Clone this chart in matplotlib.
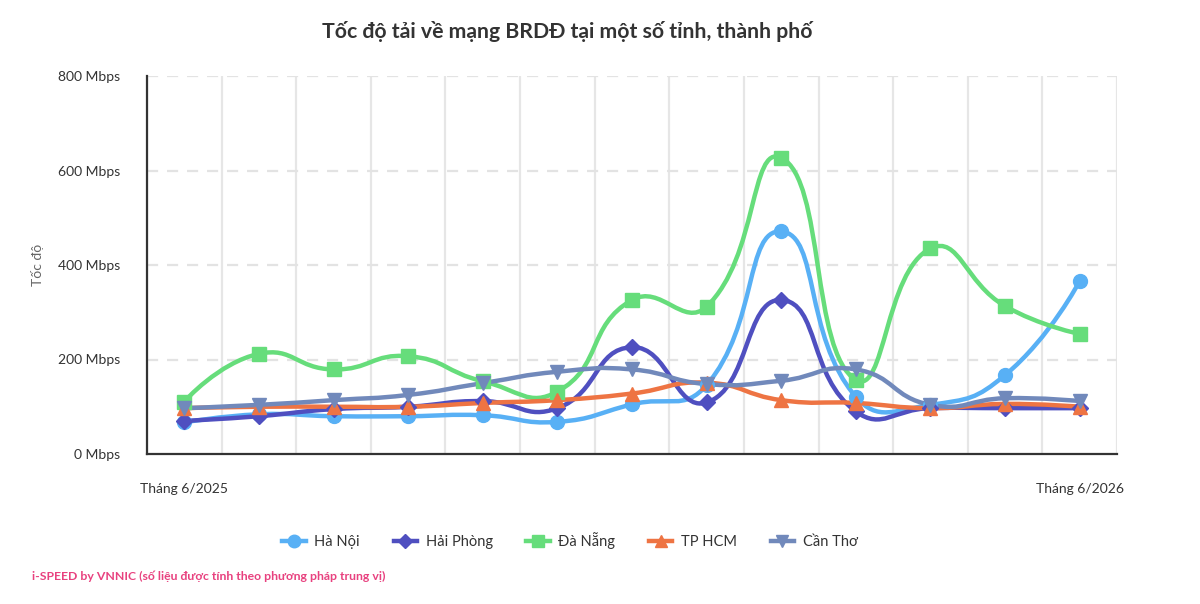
"""Tốc độ tải về mạng BRDĐ tại một số tỉnh, thành phố — smoothed line chart."""
import numpy as np
import matplotlib
matplotlib.use("Agg")
import matplotlib.pyplot as plt
from matplotlib.path import Path
from matplotlib.patches import PathPatch
from matplotlib.lines import Line2D

plt.rcParams["font.family"] = ["Lato", "DejaVu Sans"]

MONTHS = ["Tháng 6/2025", "Tháng 7/2025", "Tháng 8/2025", "Tháng 9/2025",
          "Tháng 10/2025", "Tháng 11/2025", "Tháng 12/2025", "Tháng 1/2026",
          "Tháng 2/2026", "Tháng 3/2026", "Tháng 4/2026", "Tháng 5/2026",
          "Tháng 6/2026"]

HA_NOI = [67, 84, 80, 80, 82, 68, 105, 146, 471, 121, 104, 167, 366]
HAI_PHONG = [70, 80, 95, 100, 112, 97, 226, 109, 326, 90, 97, 97, 97]
DA_NANG = [111, 212, 179, 207, 154, 132, 326, 312, 627, 157, 435, 313, 254]
TP_HCM = [97, 100, 100, 100, 108, 114, 128, 151, 114, 108, 97, 106, 100]
CAN_THO = [97, 104, 114, 125, 150, 174, 179, 148, 155, 179, 104, 118, 112]

SERIES = [
    ("Hà Nội", HA_NOI, "#58b0f5", "o", 10),
    ("Hải Phòng", HAI_PHONG, "#4f4fc0", "D", 8),
    ("Đà Nẵng", DA_NANG, "#66dd7b", "s", 10),
    ("TP HCM", TP_HCM, "#ee7443", "^", 10),
    ("Cần Thơ", CAN_THO, "#7189bb", "v", 10),
]


def smooth_path(ax, xs, ys, smooth=0.5):
    """Bezier path through points, echarts-style control points (display space)."""
    pts = ax.transData.transform(np.column_stack([xs, ys]))
    n = len(pts)
    verts = [pts[0]]
    codes = [Path.MOVETO]
    cps = []
    for i in range(n):
        p = pts[i]
        if i == 0 or i == n - 1:
            cps.append((p, p))
            continue
        prev, nxt = pts[i - 1], pts[i + 1]
        v = nxt - prev
        l0 = np.hypot(*(p - prev))
        l1 = np.hypot(*(nxt - p))
        r = l1 / (l0 + l1)
        cps.append((p - v * smooth * (1 - r), p + v * smooth * r))
    for i in range(n - 1):
        verts += [cps[i][1], cps[i + 1][0], pts[i + 1]]
        codes += [Path.CURVE4] * 3
    verts = ax.transData.inverted().transform(np.array(verts))
    return Path(verts, codes)


fig = plt.figure(figsize=(12, 6.04), dpi=100)
ax = fig.add_axes([147 / 1200, 1 - 454 / 604, 970 / 1200, 378 / 604])
x = np.arange(len(MONTHS))
ax.set_xlim(-0.5, len(MONTHS) - 0.5)
ax.set_ylim(0, 800)

# grid
for gx in np.arange(-0.5, len(MONTHS), 1.0):
    ax.axvline(gx, color="#e6e6e6", lw=1.6, zorder=0)
for gy in [200, 400, 600, 800]:
    ax.axhline(gy, color="#e3e3e3", lw=1.6, ls=(0, (5, 4)), zorder=0)

for name, vals, color, mk, ms in SERIES:
    ax.add_patch(PathPatch(smooth_path(ax, x, vals), fill=False, edgecolor=color,
                           lw=3.2, capstyle="round", joinstyle="round", zorder=2))
    ax.plot(x, vals, ls="none", marker=mk, ms=ms, color=color, zorder=3)

for s in ["top", "right"]:
    ax.spines[s].set_visible(False)
ax.spines["left"].set_color("#333333")
ax.spines["left"].set_linewidth(1.6)
ax.spines["bottom"].set_color("#333333")
ax.spines["bottom"].set_linewidth(1.6)

ax.set_yticks([0, 200, 400, 600, 800])
ax.set_yticklabels([f"{v} Mbps" for v in [0, 200, 400, 600, 800]], fontsize=10, color="#333333")
ax.tick_params(axis="y", length=0, pad=19)
ax.set_xticks([0, len(MONTHS) - 1])
ax.set_xticklabels([MONTHS[0], MONTHS[-1]], fontsize=10, color="#333333")
ax.tick_params(axis="x", length=0, pad=21)
fig.text(38 / 1200, 1 - 265 / 604, "Tốc độ", rotation=90, ha="center", va="center",
         fontsize=10, color="#666666")

fig.text(567 / 1200, 1 - 32 / 604, "Tốc độ tải về mạng BRDĐ tại một số tỉnh, thành phố",
         ha="center", va="center", fontsize=15.3, fontweight="bold", color="#333333")

handles = [Line2D([0], [0], color=c, lw=3.2, marker=m, ms=ms * 0.9) for _, _, c, m, ms in SERIES]
fig.legend(handles, [s[0] for s in SERIES], loc="center", bbox_to_anchor=(570 / 1200, 1 - 541 / 604),
           ncol=5, frameon=False, fontsize=10.5, handlelength=1.6, columnspacing=2.3,
           handletextpad=0.6, labelcolor="#333333")

fig.text(32 / 1200, 1 - 576 / 604, "i-SPEED by VNNIC (số liệu được tính theo phương pháp trung vị)",
         ha="left", va="center", fontsize=8.8, fontweight="bold", color="#e8417f")

fig.savefig("out.png", dpi=100)
